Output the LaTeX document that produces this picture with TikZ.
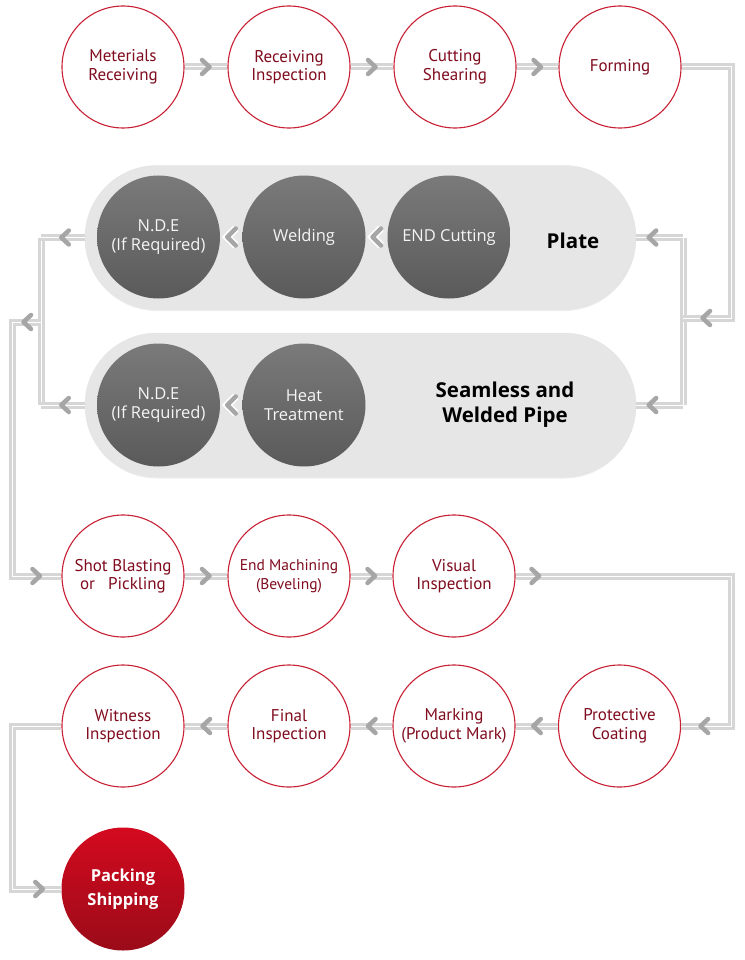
\documentclass[tikz,border=0pt]{standalone}
\usepackage{fontspec}
\setmainfont{PT Sans}
\newfontfamily\grayfont{Open Sans}
\usetikzlibrary{shapes.misc,decorations.markings,shadows}
\definecolor{redline}{RGB}{200,32,52}
\definecolor{redtext}{RGB}{128,12,30}
\definecolor{linkgray}{RGB}{214,214,214}
\definecolor{chevgray}{RGB}{166,166,166}
\definecolor{pillgray}{RGB}{230,230,230}
\definecolor{darktop}{RGB}{122,122,122}
\definecolor{darkbot}{RGB}{90,90,90}
\definecolor{packtop}{RGB}{212,10,31}
\definecolor{packbot}{RGB}{154,11,25}
\begin{document}
\begin{tikzpicture}[x=1pt, y=-1pt,
  redstep/.style={circle, draw=redline, line width=1.1pt, fill=white, minimum size=122pt, inner sep=0pt, align=center, text=redtext, font=\fontsize{17}{18.5}\selectfont},
  graystep/.style={circle, top color=darktop, bottom color=darkbot, minimum size=123pt, inner sep=0pt, align=center, text=white!92!gray, font=\grayfont\fontsize{16.5}{18.5}\selectfont},
  packstep/.style={circle, top color=packtop, bottom color=packbot, minimum size=123pt, inner sep=0pt, align=center, text=white, font=\grayfont\bfseries\fontsize{16.5}{24}\selectfont},
  pill/.style={rounded rectangle, fill=pillgray, draw=black!10, minimum width=551pt, minimum height=144pt, inner sep=0pt, drop shadow={shadow xshift=0pt, shadow yshift=-1.5pt, opacity=.15}},
  pilltext/.style={align=center, font=\grayfont\bfseries\fontsize{20.5}{25}\selectfont},
  link/.style={draw=linkgray, line width=3pt, double=white, double distance=1pt},
  chev/.style={draw=chevgray, line width=4.5pt, line cap=round, line join=round},
  wchev/.style={draw=chevgray, line width=4.5pt, line cap=round, line join=round, preaction={draw=white, line width=7.5pt}},
  chevat/.style={postaction={decorate, decoration={markings, mark=at position #1 with {\draw[chev] (-4pt,7pt) -- (3.5pt,0pt) -- (-4pt,-7pt);}}}},
  chevmid/.style={chevat=0.5},
  wchevmid/.style={postaction={decorate, decoration={markings, mark=at position 0.5 with {\draw[wchev] (-4.5pt,8.5pt) -- (4pt,0pt) -- (-4.5pt,-8.5pt);}}}}
]
\useasboundingbox (0,0) rectangle (744,960);
\node[redstep] (ps1) at (123,67){Meterials\\Receiving};
\node[redstep] (ps2) at (289,67){Receiving\\Inspection};
\node[redstep] (ps3) at (455,67){Cutting\\Shearing};
\node[redstep] (ps4) at (620,67){Forming};
\draw[link, chevmid](ps1) -- (ps2);
\draw[link, chevmid](ps2) -- (ps3);
\draw[link, chevmid](ps3) -- (ps4);
\node[pill] (plate) at (360.5,237.5){};
\node[pill] (pipe) at (360.5,405){};
\node[pilltext] (platetxt) at (573,241){Plate};
\node[pilltext] (pipetxt) at (505,405){Seamless and\\Welded Pipe};
\node[graystep] (pl1) at (158.5,237){N.D.E\\(If Required)};
\node[graystep] (pl2) at (304,237){Welding};
\node[graystep] (pl3) at (449,237){END Cutting};
\node[graystep] (sw1) at (158.5,405){N.D.E\\(If Required)};
\node[graystep] (sw2) at (304,405){Heat\\Treatment};
\path[wchevmid](pl3) -- (pl2);
\path[wchevmid](pl2) -- (pl1);
\path[wchevmid](sw2) -- (sw1);
\coordinate (jr) at (683,318);
\coordinate (jr1) at (683,237.5);
\coordinate (jr2) at (683,405);
\draw[link](jr1) -- (jr2);
\draw[link, chevat=-23pt](ps4.east) -- (731,67) -- (731,318) -- (jr);
\draw[link, chevat=-16pt](jr1) -- (plate.east);
\draw[link, chevat=-16pt](jr2) -- (pipe.east);
\coordinate (jl) at (41,322);
\coordinate (jl1) at (41,237.5);
\coordinate (jl2) at (41,405);
\draw[link](jl1) -- (jl2);
\draw[link, chevat=20pt](plate.west) -- (jl1);
\draw[link, chevat=20pt](pipe.west) -- (jl2);
\node[redstep] (ps5) at (123,576){Shot Blasting\\or\enspace\ Pickling};
\node[redstep, font=\fontsize{15.5}{18.5}\selectfont] (ps6) at (289,576){End Machining\\(Beveling)};
\node[redstep] (ps7) at (454,576){Visual\\Inspection};
\draw[link, chevat=14pt, chevat=-25pt](jl) -- (12,322) -- (12,576) -- (ps5.west);
\draw[link, chevmid](ps5) -- (ps6);
\draw[link, chevmid](ps6) -- (ps7);
\node[redstep] (ps8) at (619.5,726){Protective\\Coating};
\node[redstep] (ps9) at (454,726){Marking\\(Product Mark)};
\node[redstep] (ps10) at (289,726){Final\\Inspection};
\node[redstep] (ps11) at (123,726){Witness\\Inspection};
\draw[link, chevat=20pt, chevat=-23pt](ps7.east) -- (731,576) -- (731,726) -- (ps8.east);
\draw[link, chevmid](ps8) -- (ps9);
\draw[link, chevmid](ps9) -- (ps10);
\draw[link, chevmid](ps10) -- (ps11);
\node[packstep] (ps12) at (123,889){Packing\\Shipping};
\draw[link, chevat=-22pt](ps11.west) -- (12,726) -- (12,889) -- (ps12.west);
\end{tikzpicture}
\end{document}
